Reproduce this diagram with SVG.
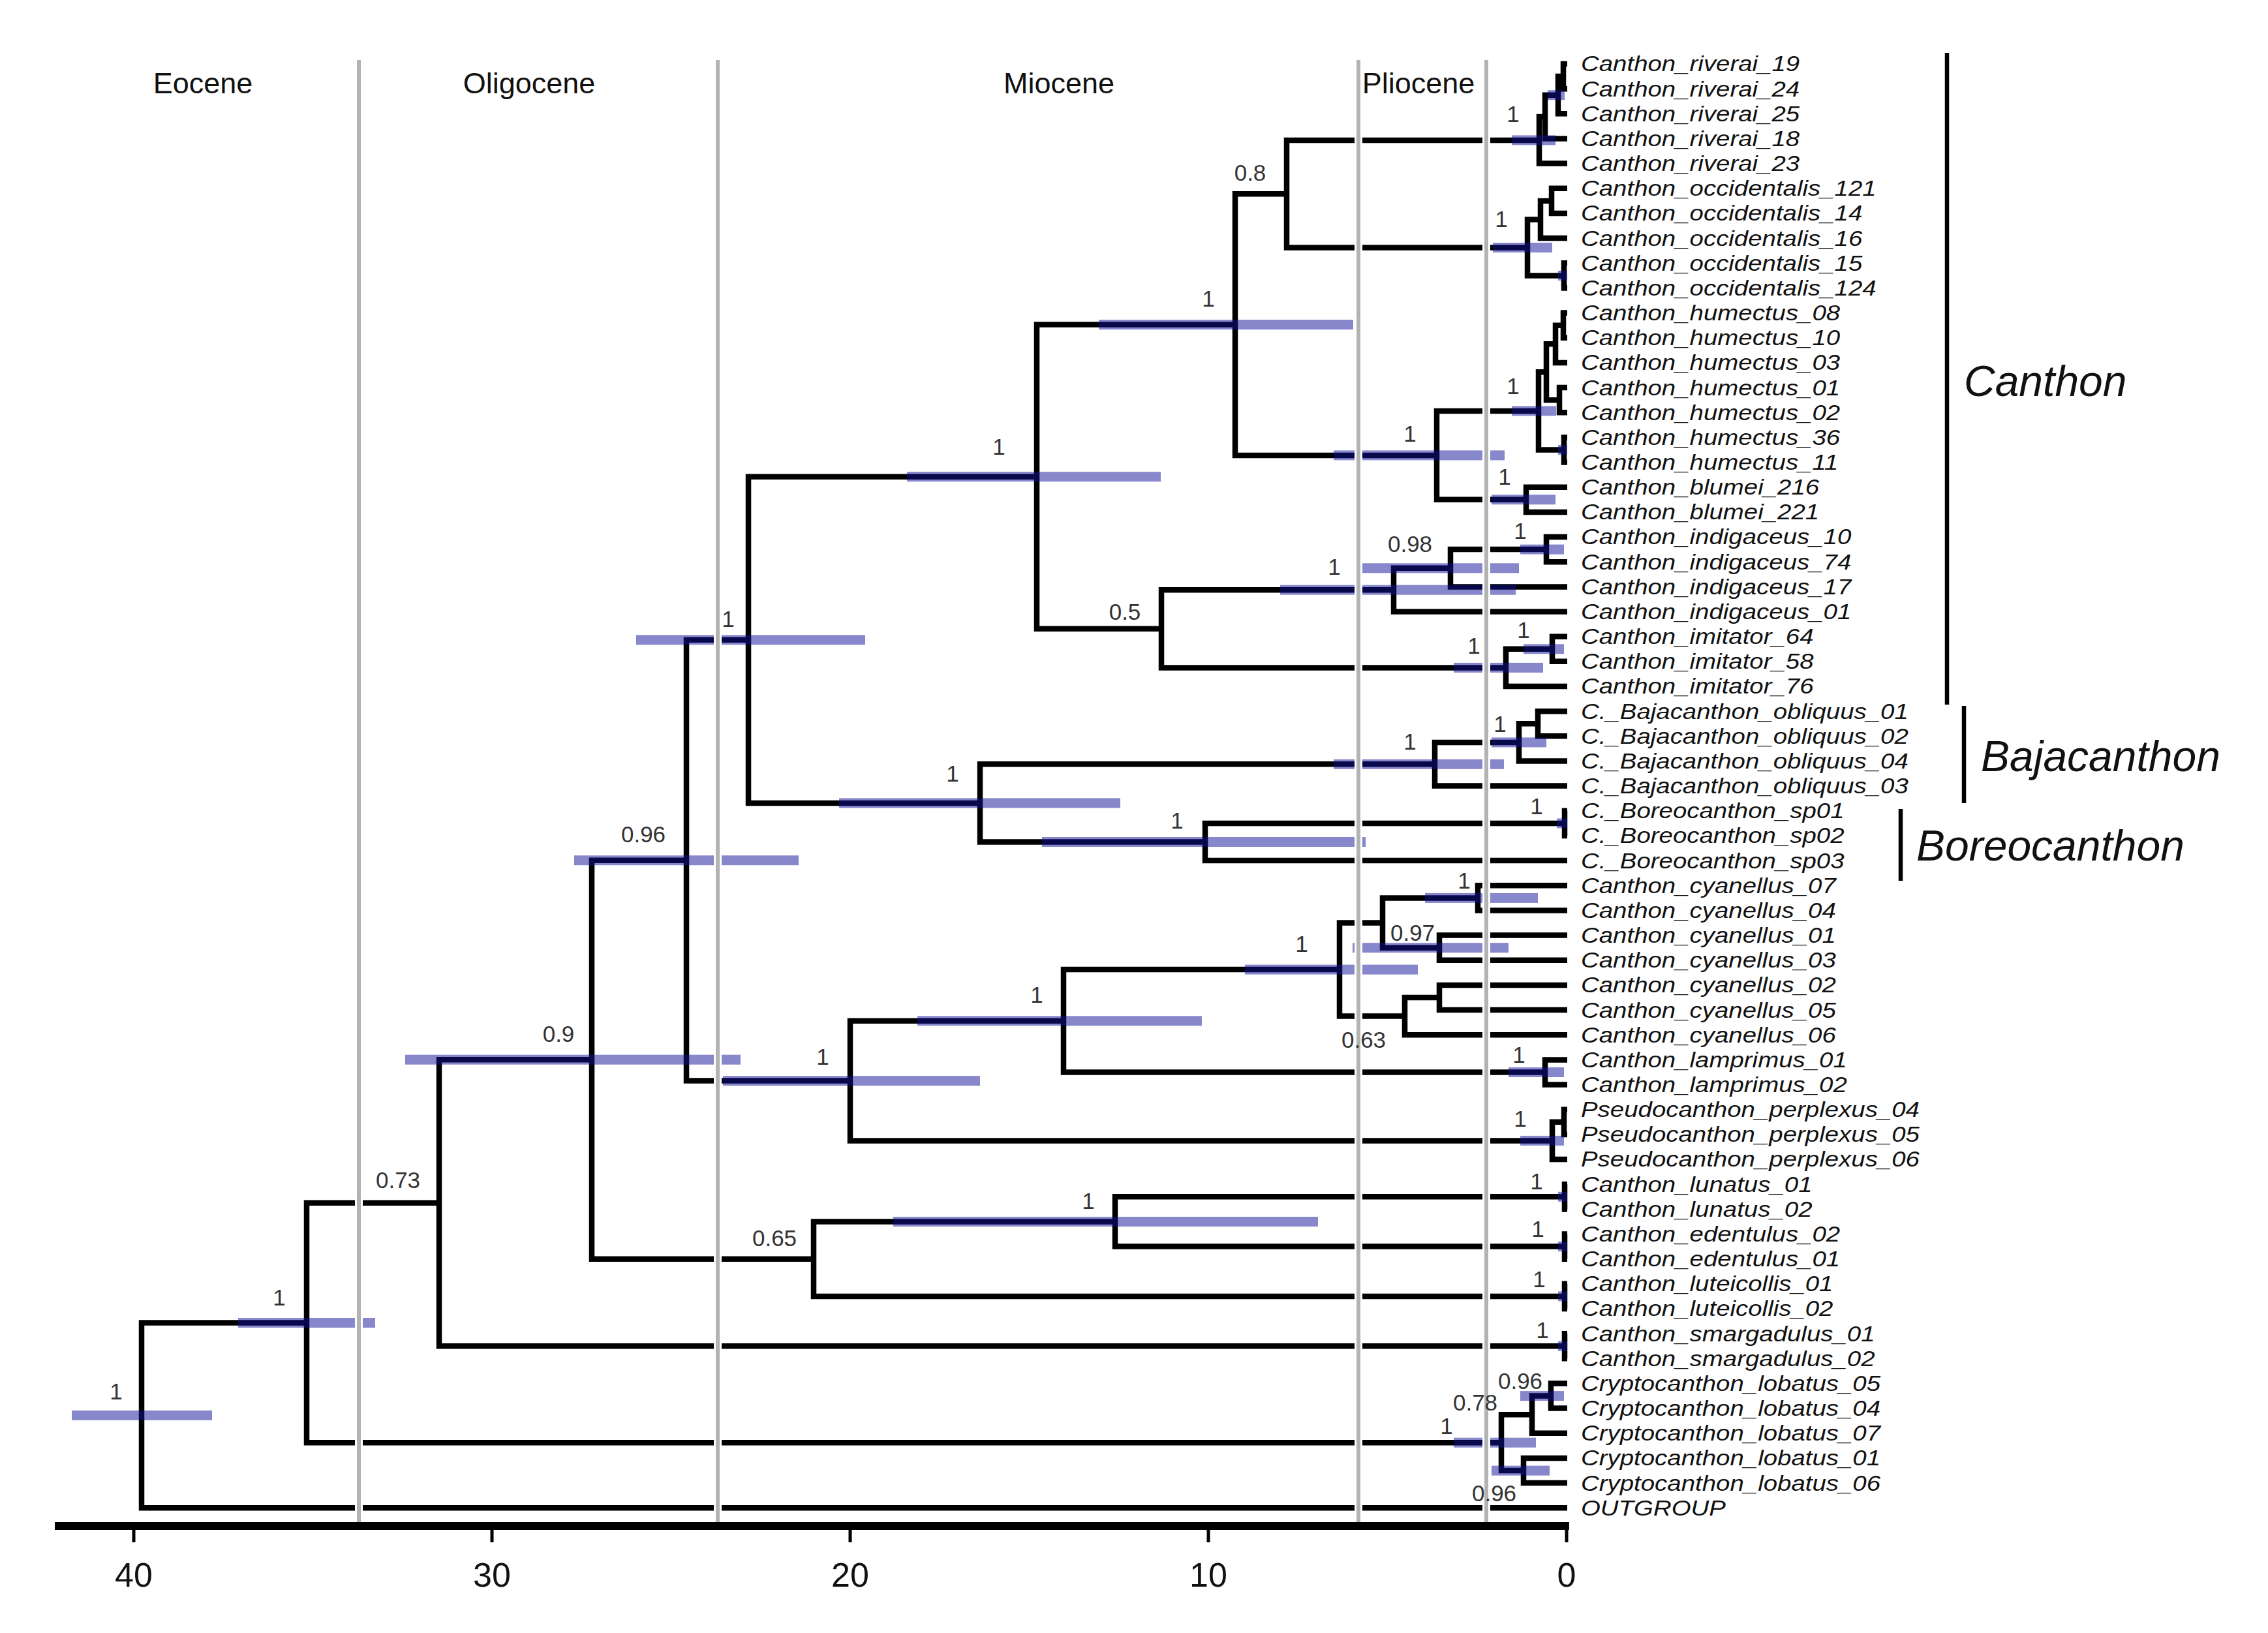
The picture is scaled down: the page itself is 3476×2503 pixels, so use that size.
<svg xmlns="http://www.w3.org/2000/svg" width="3476" height="2503" viewBox="0 0 3476 2503">
<style>
.br{fill:none;stroke:#000;stroke-width:8.5;stroke-linejoin:miter;stroke-linecap:butt}
.hpd{fill:#10109a;fill-opacity:0.5}
.eph{stroke:#fff;stroke-width:12}
.ep{stroke:#b3b3b3;stroke-width:6}
.tip{font-family:"Liberation Sans",Arial,sans-serif;font-style:italic;font-size:34px;fill:#111}
.sup{font-family:"Liberation Sans",Arial,sans-serif;font-size:35px;fill:#333;text-anchor:middle}
.epl{font-family:"Liberation Sans",Arial,sans-serif;font-size:45px;fill:#111;text-anchor:middle}
.ax{font-family:"Liberation Sans",Arial,sans-serif;font-size:52px;fill:#111;text-anchor:middle}
.clade{font-family:"Liberation Sans",Arial,sans-serif;font-style:italic;font-size:66px;fill:#111}
.cbar{stroke:#000;stroke-width:6.5}
</style>
<rect width="3476" height="2503" fill="#fff"/>

<g id="connectors">
<path class="br" d="M2402 98 H2396 V136.2 H2402"/>
<path class="br" d="M2396 117.1 H2388 V174.3 H2402"/>
<path class="br" d="M2388 145.7 H2368 V212.5 H2402"/>
<path class="br" d="M2368 179.1 H2359 V250.6 H2402"/>
<path class="br" d="M2402 288.8 H2378 V327 H2402"/>
<path class="br" d="M2378 307.9 H2361 V365.1 H2402"/>
<path class="br" d="M2402 403.3 H2397 V441.4 H2402"/>
<path class="br" d="M2361 336.5 H2341 V422.4 H2397"/>
<path class="br" d="M2359 214.9 H1972 V379.5 H2341"/>
<path class="br" d="M2402 479.6 H2396 V517.8 H2402"/>
<path class="br" d="M2396 498.7 H2384 V555.9 H2402"/>
<path class="br" d="M2402 594.1 H2390 V632.2 H2402"/>
<path class="br" d="M2384 527.3 H2370 V613.2 H2390"/>
<path class="br" d="M2402 670.4 H2397 V708.6 H2402"/>
<path class="br" d="M2370 570.3 H2358 V689.5 H2397"/>
<path class="br" d="M2402 746.7 H2339 V784.9 H2402"/>
<path class="br" d="M2358 629.9 H2202 V765.8 H2339"/>
<path class="br" d="M1972 297.2 H1893 V697.9 H2202"/>
<path class="br" d="M2402 823 H2370 V861.2 H2402"/>
<path class="br" d="M2370 842.1 H2223 V899.4 H2402"/>
<path class="br" d="M2223 870.8 H2136 V937.5 H2402"/>
<path class="br" d="M2402 975.7 H2379 V1013.8 H2402"/>
<path class="br" d="M2379 994.8 H2308 V1052 H2402"/>
<path class="br" d="M2136 904.2 H1780 V1023.4 H2308"/>
<path class="br" d="M1893 497.6 H1589 V963.8 H1780"/>
<path class="br" d="M2402 1090.2 H2357 V1128.3 H2402"/>
<path class="br" d="M2357 1109.3 H2328 V1166.5 H2402"/>
<path class="br" d="M2328 1137.9 H2199 V1204.6 H2402"/>
<path class="br" d="M2402 1242.8 H2398 V1281 H2402"/>
<path class="br" d="M2398 1261.9 H1847 V1319.1 H2402"/>
<path class="br" d="M2199 1171.3 H1502 V1290.5 H1847"/>
<path class="br" d="M1589 730.7 H1147 V1230.9 H1502"/>
<path class="br" d="M2402 1357.3 H2265 V1395.4 H2402"/>
<path class="br" d="M2402 1433.6 H2206 V1471.8 H2402"/>
<path class="br" d="M2265 1376.4 H2119 V1452.7 H2206"/>
<path class="br" d="M2402 1509.9 H2206 V1548.1 H2402"/>
<path class="br" d="M2206 1529 H2153 V1586.2 H2402"/>
<path class="br" d="M2119 1414.6 H2053 V1557.6 H2153"/>
<path class="br" d="M2402 1624.4 H2368 V1662.6 H2402"/>
<path class="br" d="M2053 1486.1 H1630 V1643.5 H2368"/>
<path class="br" d="M2402 1700.7 H2397 V1738.9 H2402"/>
<path class="br" d="M2397 1719.8 H2379 V1777 H2402"/>
<path class="br" d="M1630 1564.8 H1303 V1748.4 H2379"/>
<path class="br" d="M1147 980.8 H1052 V1656.6 H1303"/>
<path class="br" d="M2402 1815.2 H2398 V1853.4 H2402"/>
<path class="br" d="M2402 1891.5 H2398 V1929.7 H2402"/>
<path class="br" d="M2398 1834.3 H1709 V1910.6 H2398"/>
<path class="br" d="M2402 1967.8 H2398 V2006 H2402"/>
<path class="br" d="M1709 1872.5 H1247 V1986.9 H2398"/>
<path class="br" d="M1052 1318.7 H907 V1929.7 H1247"/>
<path class="br" d="M2402 2044.2 H2398 V2082.3 H2402"/>
<path class="br" d="M907 1624.2 H673 V2063.3 H2398"/>
<path class="br" d="M2402 2120.5 H2377 V2158.6 H2402"/>
<path class="br" d="M2377 2139.6 H2348 V2196.8 H2402"/>
<path class="br" d="M2402 2235 H2335 V2273.1 H2402"/>
<path class="br" d="M2348 2168.2 H2301 V2254.1 H2335"/>
<path class="br" d="M673 1843.8 H470 V2211.2 H2301"/>
<path class="br" d="M470 2027.5 H217 V2311.3 H2402"/>
</g>

<g id="hpd-bars">
<rect class="hpd" x="110" y="2161.9" width="215" height="15"/>
<rect class="hpd" x="365" y="2020" width="210" height="15"/>
<rect class="hpd" x="621" y="1616.7" width="514" height="15"/>
<rect class="hpd" x="880" y="1311.2" width="344" height="15"/>
<rect class="hpd" x="975" y="973.3" width="351" height="15"/>
<rect class="hpd" x="1390" y="723.2" width="389" height="15"/>
<rect class="hpd" x="1684" y="490.1" width="390" height="15"/>
<rect class="hpd" x="2044" y="690.4" width="262" height="15"/>
<rect class="hpd" x="2317" y="207.4" width="67" height="15"/>
<rect class="hpd" x="2372" y="138.2" width="26" height="15"/>
<rect class="hpd" x="2288" y="372" width="91" height="15"/>
<rect class="hpd" x="2388" y="414.9" width="14" height="15"/>
<rect class="hpd" x="2317" y="622.4" width="68" height="15"/>
<rect class="hpd" x="2388" y="682" width="14" height="15"/>
<rect class="hpd" x="2286" y="758.3" width="98" height="15"/>
<rect class="hpd" x="2330" y="834.6" width="67" height="15"/>
<rect class="hpd" x="2084" y="863.3" width="244" height="15"/>
<rect class="hpd" x="1962" y="896.7" width="361" height="15"/>
<rect class="hpd" x="2335" y="987.3" width="62" height="15"/>
<rect class="hpd" x="2228" y="1015.9" width="137" height="15"/>
<rect class="hpd" x="2286" y="1130.4" width="84" height="15"/>
<rect class="hpd" x="2044" y="1163.8" width="261" height="15"/>
<rect class="hpd" x="2386" y="1254.4" width="16" height="15"/>
<rect class="hpd" x="1597" y="1283" width="496" height="15"/>
<rect class="hpd" x="1286" y="1223.4" width="431" height="15"/>
<rect class="hpd" x="1108" y="1649.1" width="394" height="15"/>
<rect class="hpd" x="1406" y="1557.3" width="436" height="15"/>
<rect class="hpd" x="1908" y="1478.6" width="265" height="15"/>
<rect class="hpd" x="2184" y="1368.9" width="173" height="15"/>
<rect class="hpd" x="2073" y="1445.2" width="239" height="15"/>
<rect class="hpd" x="2312" y="1636" width="85" height="15"/>
<rect class="hpd" x="2330" y="1740.9" width="67" height="15"/>
<rect class="hpd" x="1369" y="1865" width="651" height="15"/>
<rect class="hpd" x="2388" y="1826.8" width="14" height="15"/>
<rect class="hpd" x="2388" y="1903.1" width="14" height="15"/>
<rect class="hpd" x="2388" y="1979.4" width="14" height="15"/>
<rect class="hpd" x="2388" y="2055.8" width="14" height="15"/>
<rect class="hpd" x="2228" y="2203.7" width="126" height="15"/>
<rect class="hpd" x="2330" y="2132.1" width="67" height="15"/>
<rect class="hpd" x="2286" y="2246.6" width="89" height="15"/>
</g>

<g id="epoch-lines">
<line class="eph" x1="550" y1="92" x2="550" y2="2333"/>
<line class="eph" x1="1100" y1="92" x2="1100" y2="2333"/>
<line class="eph" x1="2082" y1="92" x2="2082" y2="2333"/>
<line class="eph" x1="2278" y1="92" x2="2278" y2="2333"/>
<line class="ep" x1="550" y1="92" x2="550" y2="2333"/>
<line class="ep" x1="1100" y1="92" x2="1100" y2="2333"/>
<line class="ep" x1="2082" y1="92" x2="2082" y2="2333"/>
<line class="ep" x1="2278" y1="92" x2="2278" y2="2333"/>
</g>

<g id="epochs">
<text class="epl" x="311" y="143">Eocene</text>
<text class="epl" x="811" y="143">Oligocene</text>
<text class="epl" x="1623" y="143">Miocene</text>
<text class="epl" x="2174" y="143">Pliocene</text>
</g>

<g id="axis">
<line x1="84" y1="2339" x2="2405" y2="2339" stroke="#000" stroke-width="12"/>
<g stroke="#000" stroke-width="5">
<line x1="205" y1="2339" x2="2205" y2="2339" stroke-width="0"/>
<line x1="205" y1="2339" x2="205" y2="2364"/>
<line x1="754" y1="2339" x2="754" y2="2364"/>
<line x1="1303" y1="2339" x2="1303" y2="2364"/>
<line x1="1852" y1="2339" x2="1852" y2="2364"/>
<line x1="2401" y1="2339" x2="2401" y2="2364"/>
</g>
<text class="ax" x="205" y="2432">40</text>
<text class="ax" x="754" y="2432">30</text>
<text class="ax" x="1303" y="2432">20</text>
<text class="ax" x="1852" y="2432">10</text>
<text class="ax" x="2401" y="2432">0</text>
</g>

<g id="support-values">
<g id="n-root"><text class="sup" x="178" y="2145">1</text></g>
<g id="n-B"><text class="sup" x="428" y="2001">1</text></g>
<g id="n-C"><text class="sup" x="610" y="1821">0.73</text></g>
<g id="n-D"><text class="sup" x="856" y="1597">0.9</text></g>
<g id="n-F"><text class="sup" x="986" y="1291">0.96</text></g>
<g id="n-G"><text class="sup" x="1116" y="961">1</text></g>
<g id="n-N"><text class="sup" x="1531" y="697">1</text></g>
<g id="n-P"><text class="sup" x="1852" y="470">1</text></g>
<g id="n-R"><text class="sup" x="1916" y="277">0.8</text></g>
<g id="n-S"><text class="sup" x="2161" y="677">1</text></g>
<g id="n-Q"><text class="sup" x="1724" y="950">0.5</text></g>
<g id="n-U"><text class="sup" x="2161" y="846">0.98</text></g>
<g id="n-T"><text class="sup" x="2045" y="881">1</text></g>
<g id="n-riv"><text class="sup" x="2319" y="187">1</text></g>
<g id="n-occ"><text class="sup" x="2301" y="348">1</text></g>
<g id="n-hum"><text class="sup" x="2319" y="604">1</text></g>
<g id="n-blu"><text class="sup" x="2306" y="743">1</text></g>
<g id="n-ind"><text class="sup" x="2330" y="826">1</text></g>
<g id="n-imi1"><text class="sup" x="2335" y="978">1</text></g>
<g id="n-imi"><text class="sup" x="2259" y="1002">1</text></g>
<g id="n-baj1"><text class="sup" x="2299" y="1122">1</text></g>
<g id="n-baj"><text class="sup" x="2161" y="1149">1</text></g>
<g id="n-bor1"><text class="sup" x="2355" y="1248">1</text></g>
<g id="n-bor"><text class="sup" x="1804" y="1270">1</text></g>
<g id="n-O"><text class="sup" x="1460" y="1198">1</text></g>
<g id="n-H"><text class="sup" x="1261" y="1632">1</text></g>
<g id="n-I"><text class="sup" x="1589" y="1537">1</text></g>
<g id="n-J"><text class="sup" x="1995" y="1459">1</text></g>
<g id="n-cya1"><text class="sup" x="2244" y="1362">1</text></g>
<g id="n-cya97"><text class="sup" x="2165" y="1442">0.97</text></g>
<g id="n-cya63"><text class="sup" x="2090" y="1606">0.63</text></g>
<g id="n-lam"><text class="sup" x="2328" y="1629">1</text></g>
<g id="n-pse"><text class="sup" x="2330" y="1727">1</text></g>
<g id="n-lun"><text class="sup" x="2355" y="1823">1</text></g>
<g id="n-ede"><text class="sup" x="2357" y="1896">1</text></g>
<g id="n-M"><text class="sup" x="1668" y="1853">1</text></g>
<g id="n-lut"><text class="sup" x="2359" y="1973">1</text></g>
<g id="n-L"><text class="sup" x="1187" y="1910">0.65</text></g>
<g id="n-sma"><text class="sup" x="2364" y="2051">1</text></g>
<g id="n-cry1"><text class="sup" x="2330" y="2129">0.96</text></g>
<g id="n-cry2"><text class="sup" x="2261" y="2162">0.78</text></g>
<g id="n-cry"><text class="sup" x="2217" y="2198">1</text></g>
<g id="n-cry3"><text class="sup" x="2290" y="2301">0.96</text></g>
</g>

<g id="tips" transform="translate(2423 0) scale(1.13 1)">
<g id="t0"><text class="tip" x="0" y="109.5">Canthon_riverai_19</text></g>
<g id="t1"><text class="tip" x="0" y="147.7">Canthon_riverai_24</text></g>
<g id="t2"><text class="tip" x="0" y="185.8">Canthon_riverai_25</text></g>
<g id="t3"><text class="tip" x="0" y="224">Canthon_riverai_18</text></g>
<g id="t4"><text class="tip" x="0" y="262.1">Canthon_riverai_23</text></g>
<g id="t5"><text class="tip" x="0" y="300.3">Canthon_occidentalis_121</text></g>
<g id="t6"><text class="tip" x="0" y="338.5">Canthon_occidentalis_14</text></g>
<g id="t7"><text class="tip" x="0" y="376.6">Canthon_occidentalis_16</text></g>
<g id="t8"><text class="tip" x="0" y="414.8">Canthon_occidentalis_15</text></g>
<g id="t9"><text class="tip" x="0" y="452.9">Canthon_occidentalis_124</text></g>
<g id="t10"><text class="tip" x="0" y="491.1">Canthon_humectus_08</text></g>
<g id="t11"><text class="tip" x="0" y="529.3">Canthon_humectus_10</text></g>
<g id="t12"><text class="tip" x="0" y="567.4">Canthon_humectus_03</text></g>
<g id="t13"><text class="tip" x="0" y="605.6">Canthon_humectus_01</text></g>
<g id="t14"><text class="tip" x="0" y="643.7">Canthon_humectus_02</text></g>
<g id="t15"><text class="tip" x="0" y="681.9">Canthon_humectus_36</text></g>
<g id="t16"><text class="tip" x="0" y="720.1">Canthon_humectus_11</text></g>
<g id="t17"><text class="tip" x="0" y="758.2">Canthon_blumei_216</text></g>
<g id="t18"><text class="tip" x="0" y="796.4">Canthon_blumei_221</text></g>
<g id="t19"><text class="tip" x="0" y="834.5">Canthon_indigaceus_10</text></g>
<g id="t20"><text class="tip" x="0" y="872.7">Canthon_indigaceus_74</text></g>
<g id="t21"><text class="tip" x="0" y="910.9">Canthon_indigaceus_17</text></g>
<g id="t22"><text class="tip" x="0" y="949">Canthon_indigaceus_01</text></g>
<g id="t23"><text class="tip" x="0" y="987.2">Canthon_imitator_64</text></g>
<g id="t24"><text class="tip" x="0" y="1025.3">Canthon_imitator_58</text></g>
<g id="t25"><text class="tip" x="0" y="1063.5">Canthon_imitator_76</text></g>
<g id="t26"><text class="tip" x="0" y="1101.7">C._Bajacanthon_obliquus_01</text></g>
<g id="t27"><text class="tip" x="0" y="1139.8">C._Bajacanthon_obliquus_02</text></g>
<g id="t28"><text class="tip" x="0" y="1178">C._Bajacanthon_obliquus_04</text></g>
<g id="t29"><text class="tip" x="0" y="1216.1">C._Bajacanthon_obliquus_03</text></g>
<g id="t30"><text class="tip" x="0" y="1254.3">C._Boreocanthon_sp01</text></g>
<g id="t31"><text class="tip" x="0" y="1292.5">C._Boreocanthon_sp02</text></g>
<g id="t32"><text class="tip" x="0" y="1330.6">C._Boreocanthon_sp03</text></g>
<g id="t33"><text class="tip" x="0" y="1368.8">Canthon_cyanellus_07</text></g>
<g id="t34"><text class="tip" x="0" y="1406.9">Canthon_cyanellus_04</text></g>
<g id="t35"><text class="tip" x="0" y="1445.1">Canthon_cyanellus_01</text></g>
<g id="t36"><text class="tip" x="0" y="1483.3">Canthon_cyanellus_03</text></g>
<g id="t37"><text class="tip" x="0" y="1521.4">Canthon_cyanellus_02</text></g>
<g id="t38"><text class="tip" x="0" y="1559.6">Canthon_cyanellus_05</text></g>
<g id="t39"><text class="tip" x="0" y="1597.7">Canthon_cyanellus_06</text></g>
<g id="t40"><text class="tip" x="0" y="1635.9">Canthon_lamprimus_01</text></g>
<g id="t41"><text class="tip" x="0" y="1674.1">Canthon_lamprimus_02</text></g>
<g id="t42"><text class="tip" x="0" y="1712.2">Pseudocanthon_perplexus_04</text></g>
<g id="t43"><text class="tip" x="0" y="1750.4">Pseudocanthon_perplexus_05</text></g>
<g id="t44"><text class="tip" x="0" y="1788.5">Pseudocanthon_perplexus_06</text></g>
<g id="t45"><text class="tip" x="0" y="1826.7">Canthon_lunatus_01</text></g>
<g id="t46"><text class="tip" x="0" y="1864.9">Canthon_lunatus_02</text></g>
<g id="t47"><text class="tip" x="0" y="1903">Canthon_edentulus_02</text></g>
<g id="t48"><text class="tip" x="0" y="1941.2">Canthon_edentulus_01</text></g>
<g id="t49"><text class="tip" x="0" y="1979.3">Canthon_luteicollis_01</text></g>
<g id="t50"><text class="tip" x="0" y="2017.5">Canthon_luteicollis_02</text></g>
<g id="t51"><text class="tip" x="0" y="2055.7">Canthon_smargadulus_01</text></g>
<g id="t52"><text class="tip" x="0" y="2093.8">Canthon_smargadulus_02</text></g>
<g id="t53"><text class="tip" x="0" y="2132">Cryptocanthon_lobatus_05</text></g>
<g id="t54"><text class="tip" x="0" y="2170.1">Cryptocanthon_lobatus_04</text></g>
<g id="t55"><text class="tip" x="0" y="2208.3">Cryptocanthon_lobatus_07</text></g>
<g id="t56"><text class="tip" x="0" y="2246.5">Cryptocanthon_lobatus_01</text></g>
<g id="t57"><text class="tip" x="0" y="2284.6">Cryptocanthon_lobatus_06</text></g>
<g id="t58"><text class="tip" x="0" y="2322.8">OUTGROUP</text></g>
</g>

<g id="clades">
<g id="clade-canthon"><line class="cbar" x1="2984" y1="81" x2="2984" y2="1080"/><text class="clade" x="3010" y="607">Canthon</text></g>
<g id="clade-bajacanthon"><line class="cbar" x1="3010" y1="1082" x2="3010" y2="1231"/><text class="clade" x="3036" y="1182">Bajacanthon</text></g>
<g id="clade-boreocanthon"><line class="cbar" x1="2913" y1="1240" x2="2913" y2="1350"/><text class="clade" x="2937" y="1319">Boreocanthon</text></g>
</g>
</svg>
